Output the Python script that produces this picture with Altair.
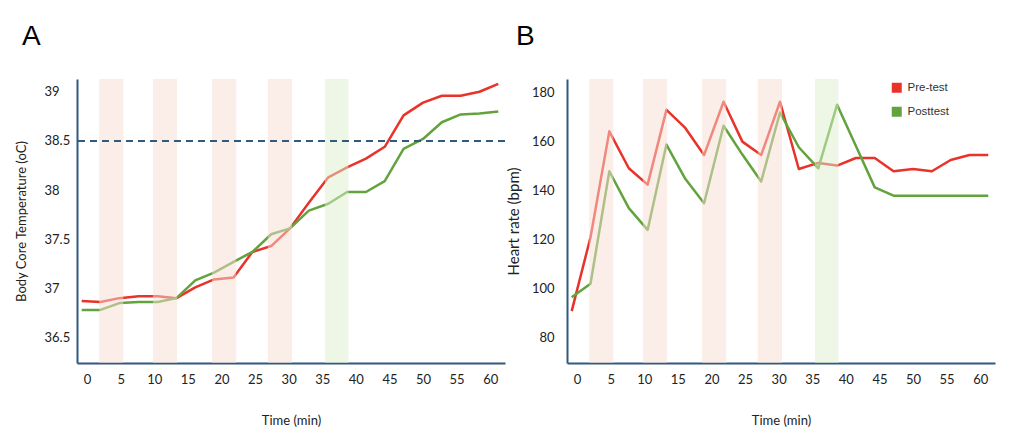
import altair as alt
import pandas as pd

# ---- data ----
TIME = [-0.8, 2.0, 4.8, 7.7, 10.5, 13.3, 16.1, 18.9, 21.8, 24.6, 27.4, 30.2,
        33.0, 35.9, 38.7, 41.5, 44.3, 47.1, 50.0, 52.8, 55.6, 58.4, 61.2]

TEMP_PRE = [36.87, 36.86, 36.90, 36.92, 36.92, 36.90, 37.01, 37.09, 37.11, 37.37,
            37.43, 37.61, 37.87, 38.13, 38.23, 38.32, 38.44, 38.76, 38.89, 38.96,
            38.96, 39.00, 39.08]
TEMP_POST = [36.78, 36.78, 36.85, 36.86, 36.86, 36.90, 37.08, 37.16, 37.27, 37.37,
             37.55, 37.61, 37.79, 37.86, 37.98, 37.98, 38.09, 38.42, 38.52, 38.69,
             38.77, 38.78, 38.80]

HR_PRE = [90.6, 120.8, 164.1, 149.0, 142.3, 172.9, 165.5, 154.4, 176.2, 159.9,
          154.4, 176.2, 148.7, 151.2, 150.1, 153.2, 153.2, 147.8, 148.7, 147.8,
          152.4, 154.4, 154.4]
HR_POST = [96.3, 101.8, 147.8, 132.7, 123.8, 158.7, 144.7, 134.7, 166.4, 154.6,
           143.6, 171.8, 157.6, 149.0, 175.0, 158.1, 141.2, 137.8, 137.8, 137.8,
           137.8, 137.8, 137.8]

SERIES = ["Pre-test", "Posttest"]
COLORS = ["#E8322A", "#62A33D"]

BAND_START = [1.8, 9.8, 18.6, 26.9, 35.4]
BAND_END = [5.4, 13.4, 22.2, 30.5, 38.9]
BAND_KIND = ["pre", "pre", "pre", "pre", "post"]
BAND_PINK = "#F7DDD1"
BAND_GREEN = "#DDEFCD"

X_TICKS = [0, 5, 10, 15, 20, 25, 30, 35, 40, 45, 50, 55, 60]
X_DOMAIN = [-1.5, 62.2]
TEMP_TICKS = [36.5, 37, 37.5, 38, 38.5, 39]
TEMP_DOMAIN = [36.24, 39.13]
HR_TICKS = [80, 100, 120, 140, 160, 180]
HR_DOMAIN = [69.4, 185.5]
THRESHOLD = 38.5

AXIS_COLOR = "#2F5B7E"
N = len(TIME)


def series_df(pre, post):
    return pd.DataFrame({
        "time": TIME + TIME,
        "value": pre + post,
        "series": [SERIES[0]] * N + [SERIES[1]] * N,
    })


bands_df = pd.DataFrame({"start": BAND_START, "end": BAND_END, "kind": BAND_KIND})


def panel(df, ydomain, yticks, ytitle, ytitle_size, letter, letter_dx, show_legend,
          label_align, label_pad, title_pad, with_threshold):
    x_scale = alt.Scale(domain=X_DOMAIN, nice=False, zero=False)
    x_axis = alt.Axis(values=X_TICKS, title="Time (min)", labelPadding=10,
                      titlePadding=28, labelFlush=False, labelOverlap=False)
    y_scale = alt.Scale(domain=ydomain, nice=False, zero=False)
    y_axis = alt.Axis(values=yticks, title=ytitle, labelAlign=label_align,
                      labelPadding=label_pad, titlePadding=title_pad,
                      titleFontSize=ytitle_size,
                      labelFlush=False, labelOverlap=False, format=".1~f")
    if show_legend:
        legend = alt.Legend(title=None, orient="none", legendX=324, legendY=3,
                            symbolType="square", symbolSize=16,
                            symbolStrokeWidth=6, labelFont="Liberation Sans",
                            labelFontSize=11.5, labelColor="#333333",
                            rowPadding=-5, labelOffset=5, padding=0)
    else:
        legend = None
    color = alt.Color("series:N", scale=alt.Scale(domain=SERIES, range=COLORS),
                      legend=legend)

    lines = alt.Chart(df).mark_line(strokeWidth=2.5, strokeJoin="round").encode(
        x=alt.X("time:Q", scale=x_scale, axis=x_axis),
        y=alt.Y("value:Q", scale=y_scale, axis=y_axis),
        color=color)

    pink = alt.Chart(bands_df).transform_filter(alt.datum.kind == "pre").mark_rect(
        color=BAND_PINK, opacity=0.5).encode(
        x=alt.X("start:Q", scale=x_scale, axis=x_axis), x2="end:Q")
    green = alt.Chart(bands_df).transform_filter(alt.datum.kind == "post").mark_rect(
        color=BAND_GREEN, opacity=0.5).encode(
        x=alt.X("start:Q", scale=x_scale, axis=x_axis), x2="end:Q")

    layers = [lines, pink, green]
    if with_threshold:
        rule = alt.Chart(pd.DataFrame({"value": [THRESHOLD]})).mark_rule(
            color=AXIS_COLOR, strokeWidth=2, strokeDash=[7, 5]).encode(
            y=alt.Y("value:Q", scale=y_scale, axis=y_axis))
        layers.append(rule)

    return alt.layer(*layers).properties(
        width=428, height=284,
        title=alt.TitleParams(text=letter, anchor="start", frame="group",
                              fontSize=28, font="Liberation Sans",
                              fontWeight="normal", color="#000000",
                              dx=letter_dx, offset=28),
    ).resolve_scale(color="independent")


chart_a = panel(series_df(TEMP_PRE, TEMP_POST), TEMP_DOMAIN, TEMP_TICKS,
                "Body Core Temperature (oC)", 13, "A", -55, False, "left", 33, 16, True)
chart_b = panel(series_df(HR_PRE, HR_POST), HR_DOMAIN, HR_TICKS,
                "Heart rate (bpm)", 15, "B", -51, True, "right", 13, 10, False)

chart = alt.hconcat(chart_a, chart_b, spacing=0).resolve_scale(
    color="independent").configure_view(stroke=None).configure_axis(
    domainColor=AXIS_COLOR, domainWidth=2, ticks=False, tickSize=0, grid=False,
    labelFont="Lato", labelFontSize=13, labelColor="#222222",
    titleFont="Lato", titleFontSize=13, titleFontWeight="normal",
    titleColor="#222222").properties(
    padding={"left": 7, "top": 15, "right": 5, "bottom": 5})

chart.save("out.html", embed_options={"renderer": "svg", "actions": False})
